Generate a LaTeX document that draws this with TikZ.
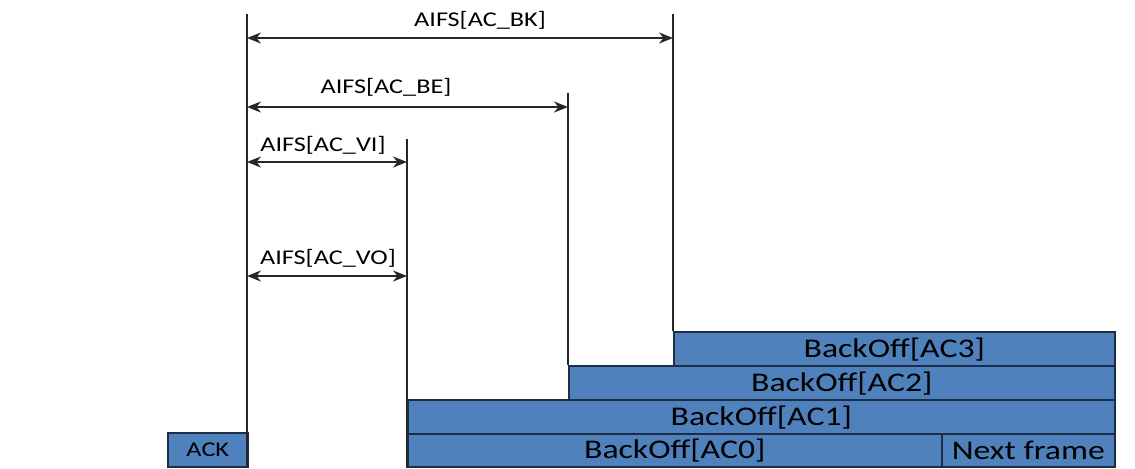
\documentclass[tikz,border=0pt]{standalone}
\usepackage{fontspec}
\setmainfont{Carlito}
\usetikzlibrary{arrows.meta,positioning}
\definecolor{boblue}{HTML}{4F81BD}
\definecolor{boedge}{HTML}{1E2D45}
\newcommand{\wide}[1]{\scalebox{1.25}[1]{#1}}
\tikzset{
  bo/.style={draw=boedge, line width=0.8pt, fill=boblue, inner sep=0pt, anchor=south west, minimum height=17pt, font=\fontsize{13.5}{15}\selectfont},
  lab/.style={inner sep=0pt, font=\fontsize{10.5}{12}\selectfont},
  tl/.style={draw=black!85, line width=1pt},
  dim/.style={draw=black!85, line width=1pt, {Stealth[length=7pt,width=5.5pt]}-{Stealth[length=7pt,width=5.5pt]}}
}
\begin{document}
\begin{tikzpicture}[x=1pt, y=1pt]
\useasboundingbox (0,0) rectangle (567.5,234);
% backoff slots
\node[bo, minimum width=40pt, font=\fontsize{10.5}{12}\selectfont] (ack) at (83.5,0) {\wide{ACK}};
\node[bo, minimum width=267pt] (ac0) at (203.5,0) {\wide{BackOff[AC0]}};
\node[bo, minimum width=86.5pt] (nxt) at (470.5,0) {\wide{Next frame}};
\node[bo, minimum width=353.5pt] (ac1) at (203.5,16.5) {\wide{BackOff[AC1]}};
\node[bo, minimum width=273pt] (ac2) at (284,33.5) {\wide{BackOff[AC2]}};
\node[bo, minimum width=220.5pt] (ac3) at (336.5,50.5) {\wide{BackOff[AC3]}};
% slot boundaries
\coordinate (t0) at (123.5,227);
\coordinate (t1) at (203.5,164.5);
\coordinate (t2) at (284,187.5);
\coordinate (t3) at (336.5,227);
\draw[tl] (t0) -- (t0 |- ack.south);
\draw[tl] (t1) -- (ac0.south west);
\draw[tl] (t2) -- (ac2.north west);
\draw[tl] (t3) -- (ac3.north west);
% AIFS intervals
\coordinate (bk) at (123.5,215);
\coordinate (be) at (123.5,180.5);
\coordinate (vi) at (123.5,153);
\coordinate (vo) at (123.5,96);
\draw[dim] (bk) -- (bk -| t3);
\draw[dim] (be) -- (be -| t2);
\draw[dim] (vi) -- (vi -| t1);
\draw[dim] (vo) -- (vo -| t1);
\node[lab] (lbk) at (240,223.6) {\wide{AIFS[AC\_BK]}};
\node[lab] (lbe) at (193,190.5) {\wide{AIFS[AC\_BE]}};
\node[lab] (lvi) at (161.5,161.5) {\wide{AIFS[AC\_VI]}};
\node[lab] (lvo) at (164,105) {\wide{AIFS[AC\_VO]}};
\end{tikzpicture}
\end{document}
